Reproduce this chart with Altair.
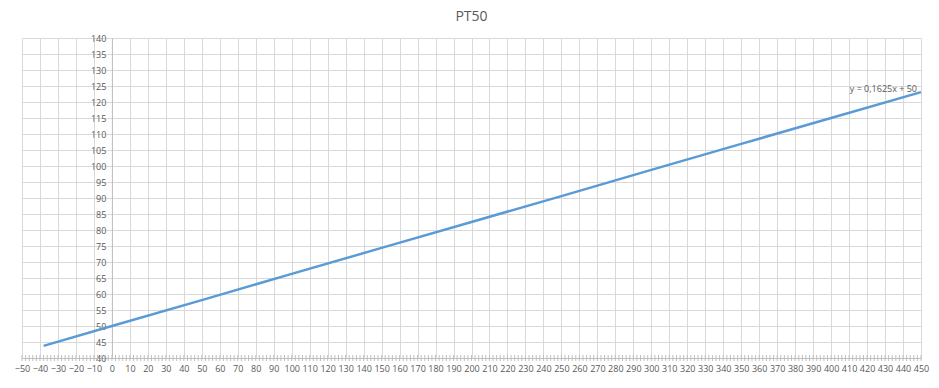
import altair as alt
import pandas as pd

# data
xs = [-38, 0, 50, 100, 150, 200, 250, 300, 350, 400, 450]
ys = [43.8, 50.0, 58.1, 66.3, 74.4, 82.5, 90.6, 98.8, 106.9, 115.0, 123.1]
eq_label = ["y = 0,1625x + 50"]
x_ticks = list(range(-50, 451, 10))
y_ticks = list(range(40, 141, 5))
minor_x = list(range(-50, 451, 2))

W, H = 899, 320
XMIN, XMAX = -50, 450
YMIN, YMAX = 40, 140
FONT = "Open Sans"
GREY = "#595959"

df = pd.DataFrame({"x": xs, "y": ys})
xsc = alt.Scale(domain=[XMIN, XMAX], nice=False, zero=False)
ysc = alt.Scale(domain=[YMIN, YMAX], nice=False, zero=False)

x_axis = alt.Axis(values=x_ticks, title=None, grid=True, gridColor="#D9D9D9",
                  domainColor="#BFBFBF", ticks=False, labelPadding=6,
                  labelFontSize=9, labelColor=GREY, labelFont=FONT,
                  labelFlush=False, labelOverlap=False)
y_axis = alt.Axis(values=y_ticks, title=None, grid=True, gridColor="#D9D9D9",
                  domainColor="#BFBFBF", ticks=False, labelPadding=6,
                  labelFontSize=9, labelColor=GREY, labelFont=FONT,
                  offset=-W * (0 - XMIN) / (XMAX - XMIN),
                  labelFlush=False, labelOverlap=False)

line = alt.Chart(df).mark_line(color="#5B9BD5", strokeWidth=2.5).encode(
    x=alt.X("x:Q", scale=xsc, axis=x_axis),
    y=alt.Y("y:Q", scale=ysc, axis=y_axis),
)

minor = alt.Chart(pd.DataFrame({"mx": minor_x})).mark_rule(
    color="#BFBFBF", strokeWidth=1
).encode(
    x=alt.X("mx:Q", scale=xsc, axis=x_axis),
    y=alt.value(H - 3),
    y2=alt.value(H + 3),
)

label = alt.Chart(pd.DataFrame({"t": eq_label, "x": [xs[-1]], "y": [ys[-1]]})).mark_text(
    align="right", baseline="middle", dx=-4, dy=-3, fontSize=9, font=FONT, color=GREY
).encode(
    x=alt.X("x:Q", scale=xsc, axis=x_axis),
    y=alt.Y("y:Q", scale=ysc, axis=y_axis),
    text="t:N",
)

chart = alt.layer(line, minor, label).properties(
    width=W, height=H,
    title=alt.TitleParams("PT50", fontSize=14, font=FONT, color=GREY,
                          fontWeight="normal", anchor="middle", offset=10),
    autosize=alt.AutoSizeParams(type="none"),
    padding={"left": 14, "top": 30, "right": 10, "bottom": 22},
).configure_view(stroke=None)

chart.save("out.html", embed_options={"renderer": "svg", "actions": False})
